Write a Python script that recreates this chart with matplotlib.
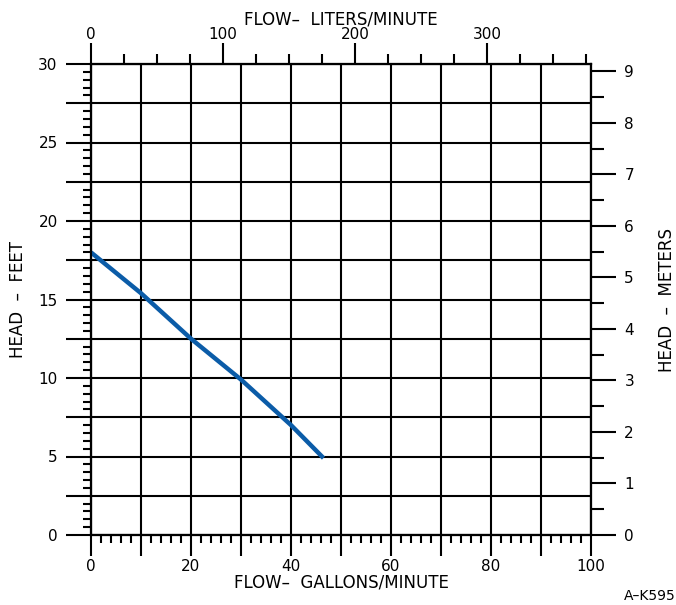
import matplotlib
matplotlib.use("Agg")
import matplotlib.pyplot as plt
import numpy as np

# pump curve
flow_gpm = [0, 10, 20, 30, 40, 46.5]
head_ft = [18.0, 15.4, 12.5, 9.9, 7.0, 4.9]

gpm_ticks = np.arange(0, 101, 10)
gpm_labels = [str(v) if v % 20 == 0 else "" for v in gpm_ticks]
ft_ticks = np.arange(0, 30.1, 2.5)
ft_labels = [str(int(v)) if v % 5 == 0 else "" for v in ft_ticks]
lpm_ticks = [0, 100, 200, 300]
m_ticks = list(range(0, 10))

GAL_TO_L = 3.78541
FT_TO_M = 0.3048

W, H = 676, 605
fig = plt.figure(figsize=(W / 100, H / 100), dpi=100)
ax = fig.add_axes([91 / W, 70 / H, 500 / W, 471 / H])

lw = 1.5
ax.set_xlim(0, 100)
ax.set_ylim(0, 30)

# top axis: liters per minute
top = ax.twiny()
top.set_xlim(0, 100 * GAL_TO_L)
top.set_xticks(lpm_ticks)
top.set_xticks(np.arange(0, 100 * GAL_TO_L, 25), minor=True)
top.tick_params(axis="x", which="major", length=15, width=lw, labelsize=11, pad=1)
top.tick_params(axis="x", which="minor", length=7, width=lw)
top.set_xlabel("FLOW\u2013  LITERS/MINUTE", fontsize=12, labelpad=2)
for s in top.spines.values():
    s.set_linewidth(lw)

# right axis: meters
right = ax.twinx()
right.set_ylim(0, 30 * FT_TO_M)
right.set_yticks(m_ticks)
right.set_yticks(np.arange(0.5, 9.1, 1), minor=True)
right.tick_params(axis="y", which="major", length=18, width=lw, labelsize=11, pad=6)
right.tick_params(axis="y", which="minor", length=9, width=lw)
for s in right.spines.values():
    s.set_linewidth(lw)

# main axes: gallons/minute vs feet
ax.set_xticks(gpm_ticks)
ax.set_xticklabels(gpm_labels)
ax.set_yticks(ft_ticks)
ax.set_yticklabels(ft_labels)
ax.set_xticks(np.arange(0, 101, 2), minor=True)
ax.set_yticks(np.arange(0, 30.1, 0.5), minor=True)
ax.grid(True, which="major", color="black", linewidth=lw)
ax.tick_params(axis="x", which="major", length=15, width=lw, direction="out",
               labelsize=11, pad=2)
ax.tick_params(axis="y", which="major", length=18, width=lw, direction="out",
               labelsize=11, pad=6)
ax.tick_params(which="minor", length=6, width=lw, direction="out")
for s in ax.spines.values():
    s.set_linewidth(lw)

ax.plot(flow_gpm, head_ft, color="#0b5ca8", linewidth=3.2, solid_capstyle="butt",
        zorder=5)

ax.set_xlabel("FLOW\u2013  GALLONS/MINUTE", fontsize=12, labelpad=0)

fig.text(18 / W, 1 - 300 / H, "HEAD  \u2013  FEET", rotation=90, fontsize=12,
         ha="center", va="center")
fig.text(1.0, 1 - 300 / H, "HEAD  \u2013  METERS", rotation=90, fontsize=12,
         ha="right", va="center")
fig.text(1.0, 1 - 596 / H, "A\u2013K595", fontsize=10, ha="right", va="center")

fig.savefig("out.png", dpi=100)
